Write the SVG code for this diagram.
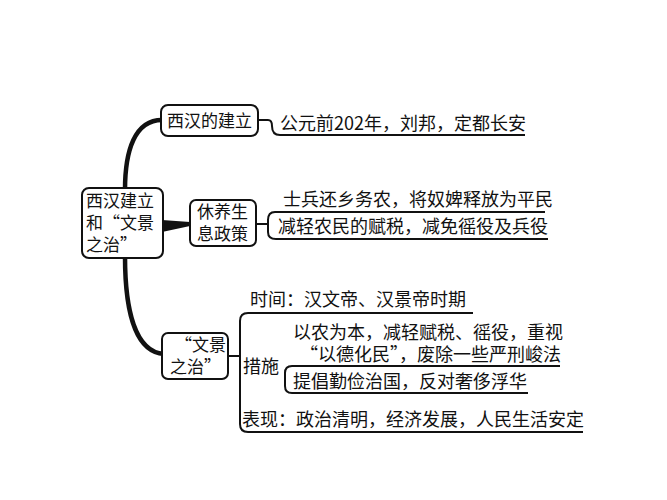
<svg xmlns="http://www.w3.org/2000/svg" width="667" height="500" viewBox="0 0 667 500">
<style>
text{font-family:"Noto Sans CJK SC","Noto Sans",sans-serif;font-size:18px;fill:#111}
.s{font-size:17px}
.box{fill:#fff;stroke:#111;stroke-width:2}
.ln{fill:none;stroke:#111;stroke-width:2}
.thick{fill:none;stroke:#111;stroke-width:4.5}
</style>
<rect width="667" height="500" fill="#fff"/>
<g id="connectors">
<path class="thick" d="M125,190 C125,150 135,120 162,120"/>
<path class="thick" d="M125,256 C125,310 135,352 164,354"/>
<path d="M162,220 L190,222 L190,226 L162,232 Z" fill="#111"/>
<path class="ln" d="M258,120 L268,120 Q272,120 272,126 Q272,135 280,135 L525,135"/>
<path class="ln" d="M256,224 L268,224"/>
<path class="ln" d="M545,212 L275,212 Q268,212 268,220 L268,232 Q268,239 276,239 L548,239"/>
<path class="ln" d="M228,356 L240,356"/>
<path class="ln" d="M473,313 L248,313 Q240,313 240,321 L240,424 Q240,432 248,432 L583,432"/>
<path class="ln" d="M560,366 L292,366 Q285,366 285,373 L285,386 Q285,393 292,393 L528,393"/>
</g>
<g id="root"><rect class="box" x="82" y="188" width="81" height="70" rx="7"/>
<text class="s" x="86" y="207">西汉建立</text><text class="s" x="86" y="229">和“文景</text><text class="s" x="86" y="251">之治”</text></g>
<g id="n1"><rect class="box" x="161" y="105" width="97" height="31" rx="7"/><text class="s" x="167" y="127">西汉的建立</text></g>
<text x="280" y="130">公元前202年，刘邦，定都长安</text>
<g id="n2"><rect class="box" x="190" y="200" width="66" height="46" rx="6"/><text class="s" x="197" y="218">休养生</text><text class="s" x="197" y="240">息政策</text></g>
<text x="283" y="206">士兵还乡务农，将奴婢释放为平民</text>
<text x="278" y="233">减轻农民的赋税，减免徭役及兵役</text>
<g id="n3"><rect class="box" x="162" y="333" width="66" height="46" rx="6"/><text class="s" x="175" y="351">“文景</text><text class="s" x="170" y="373">之治”</text></g>
<text x="250" y="306">时间：汉文帝、汉景帝时期</text>
<text x="243" y="373">措施</text>
<text x="293" y="339">以农为本，减轻赋税、徭役，重视</text>
<text x="300" y="361">“以德化民”，废除一些严刑峻法</text>
<text x="293" y="388">提倡勤俭治国，反对奢侈浮华</text>
<text x="242" y="426">表现：政治清明，经济发展，人民生活安定</text>
</svg>
